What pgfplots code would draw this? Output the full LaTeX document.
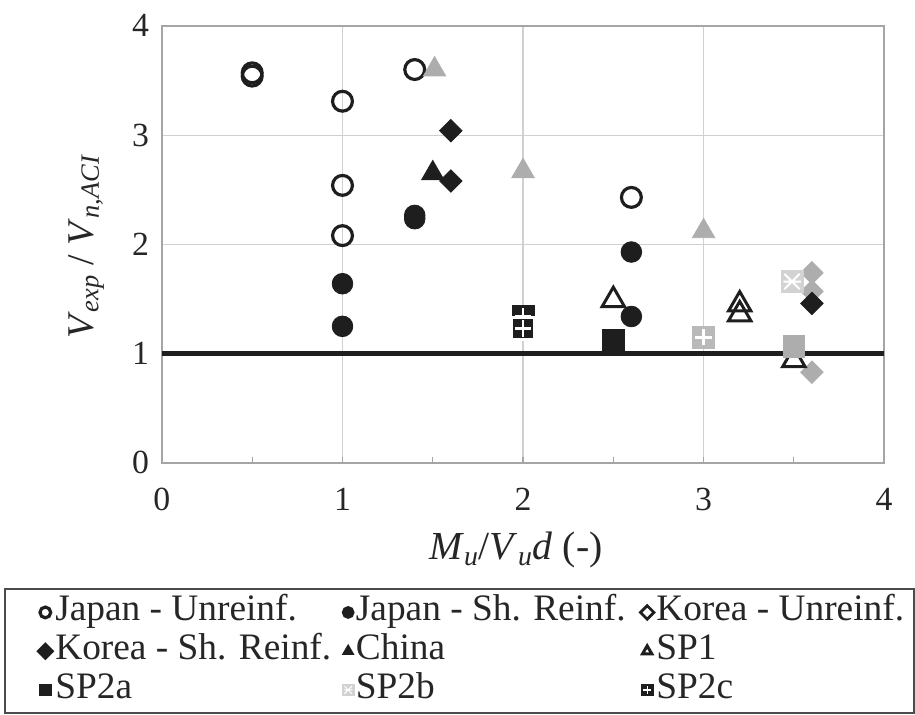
\documentclass[border=0pt]{standalone}
\usepackage{fontspec}
\setmainfont{Liberation Serif}
\usepackage{pgfplots}
\pgfplotsset{compat=1.18}
\definecolor{mk}{HTML}{1E1E1E}
\definecolor{gr}{HTML}{ADADAD}
\definecolor{lg}{HTML}{D2D2D2}
\definecolor{gridc}{HTML}{D0D0D0}
\definecolor{axc}{HTML}{A5A5A5}

\pgfdeclareplotmark{sqplus}{%
  \pgfpathrectangle{\pgfqpoint{-\pgfplotmarksize}{-\pgfplotmarksize}}{\pgfqpoint{2\pgfplotmarksize}{2\pgfplotmarksize}}%
  \pgfusepathqfillstroke
  \pgfsetstrokecolor{white}\pgfsetlinewidth{0.25\pgfplotmarksize}%
  \pgfpathmoveto{\pgfqpoint{-0.75\pgfplotmarksize}{0pt}}\pgfpathlineto{\pgfqpoint{0.75\pgfplotmarksize}{0pt}}%
  \pgfpathmoveto{\pgfqpoint{0pt}{-0.75\pgfplotmarksize}}\pgfpathlineto{\pgfqpoint{0pt}{0.75\pgfplotmarksize}}%
  \pgfusepathqstroke
}
\pgfdeclareplotmark{sqx}{%
  \pgfpathrectangle{\pgfqpoint{-\pgfplotmarksize}{-\pgfplotmarksize}}{\pgfqpoint{2\pgfplotmarksize}{2\pgfplotmarksize}}%
  \pgfusepathqfillstroke
  \pgfsetstrokecolor{white}\pgfsetlinewidth{0.18\pgfplotmarksize}%
  \pgfpathmoveto{\pgfqpoint{-0.7\pgfplotmarksize}{-0.7\pgfplotmarksize}}\pgfpathlineto{\pgfqpoint{0.7\pgfplotmarksize}{0.7\pgfplotmarksize}}%
  \pgfpathmoveto{\pgfqpoint{-0.7\pgfplotmarksize}{0.7\pgfplotmarksize}}\pgfpathlineto{\pgfqpoint{0.7\pgfplotmarksize}{-0.7\pgfplotmarksize}}%
  \pgfpathmoveto{\pgfqpoint{-0.8\pgfplotmarksize}{0pt}}\pgfpathlineto{\pgfqpoint{0.8\pgfplotmarksize}{0pt}}%
  \pgfusepathqstroke
}

\begin{document}
\begin{tikzpicture}
\begin{axis}[
  scale only axis,
  width=363.5pt, height=220pt,
  xmin=0, xmax=4, ymin=0, ymax=4,
  xtick={0,1,2,3,4}, ytick={0,1,2,3,4},
  minor x tick num=1,
  xtick pos=bottom, ytick pos=left,
  tick align=inside,
  major tick length=3pt, minor tick length=3pt,
  xtick style={axc, line width=0.6pt},
  ytick style={draw=none},
  grid=major,
  major grid style={gridc, line width=0.6pt},
  axis line style={axc, line width=0.9pt},
  /pgf/number format/assume math mode=true,
  tick label style={font=\fontsize{17}{20}\selectfont, text=black!85},
  xticklabel style={yshift=-9pt},
  yticklabel style={xshift=-3pt},
  clip=false,
  xlabel={\textit{M}\textsubscript{\textit{u}}/\textit{V}\textsubscript{\textit{u}}\textit{d} (-)},
  ylabel={\textit{V}\textsubscript{\textit{exp}} / \textit{V}\textsubscript{\textit{n,ACI}}},
  xlabel style={at={(axis description cs:0.49,-0.22)}, anchor=base, font=\fontsize{20}{24}\selectfont, text=black!85},
  ylabel style={at={(axis description cs:-0.095,0.495)}, anchor=base, font=\fontsize{19}{23}\selectfont, text=black!85},
  legend columns=3,
  legend cell align=left,
  legend image code/.code={\draw[#1, mark size=2.7pt] plot coordinates {(0pt,0pt)};},
  legend style={at={(0,0)}, anchor=north west, xshift=-79.5pt, yshift=-63pt,
    draw=black!70, line width=1pt, inner xsep=16.5pt, inner ysep=2pt,
    font=\fontsize{18.8}{22}\selectfont, text=black!85,
    row sep=0pt, column sep=0pt,
    nodes={text height=13pt, text depth=4.5pt, inner xsep=1.2pt, inner ysep=1pt}},
]
% Japan - Unreinf.
\addplot[only marks, mark=o, draw=mk, line width=1.6pt, mark size=5pt]
  coordinates {(0.5,3.54)(0.5,3.57)(1,3.31)(1,2.54)(1,2.08)(1.4,3.6)(2.6,2.43)};
\addlegendentry{\makebox[143.5pt][l]{Japan - Unreinf.}}
% Japan - Sh. Reinf.
\addplot[only marks, mark=*, draw=mk, fill=mk, mark size=5.2pt]
  coordinates {(1,1.64)(1,1.25)(1.4,2.235)(1.4,2.265)(2.6,1.93)(2.6,1.34)};
\addlegendentry{\makebox[142pt][l]{Japan - Sh. Reinf.}}
% Korea - Unreinf.
\addplot[only marks, mark=square*, mark options={rotate=45}, draw=gr, fill=gr, mark size=4pt,
  legend image code/.code={\draw[mark=square, mark options={rotate=45, draw=mk, fill=white, line width=1.4pt}, mark size=2.4pt] plot coordinates {(0pt,0pt)};}]
  coordinates {(3.6,1.74)(3.6,1.57)(3.6,0.83)};
\addlegendentry{\makebox[112pt][l]{Korea - Unreinf.}}
% Korea - Sh. Reinf.
\addplot[only marks, mark=square*, mark options={rotate=45}, draw=mk, fill=mk, mark size=4pt]
  coordinates {(1.6,3.04)(1.6,2.58)(3.6,1.46)};
\addlegendentry{Korea - Sh. Reinf.}
% China
\addplot[only marks, mark=triangle*, draw=mk, fill=mk, mark size=6.5pt]
  coordinates {(1.5,2.65)};
\addlegendentry{China}
% SP1
\addplot[only marks, mark=triangle, draw=mk, line width=1.5pt, mark size=6.5pt]
  coordinates {(2.5,1.49)(3.2,1.45)(3.2,1.36)(3.5,0.94)};
\addlegendentry{SP1}
% SP2a
\addplot[only marks, mark=square*, draw=mk, fill=mk, mark size=5.5pt]
  coordinates {(2.5,1.12)};
\addlegendentry{SP2a}
% SP2b
\addplot[only marks, mark=sqx, draw=lg, fill=lg, mark size=5.5pt]
  coordinates {(3.49,1.66)};
\addlegendentry{SP2b}
% SP2c
\addplot[only marks, mark=sqplus, draw=mk, fill=mk, mark size=5.5pt]
  coordinates {(2,1.34)(2,1.23)};
\addlegendentry{SP2c}
% grey points without own legend entry
\addplot[only marks, mark=triangle*, draw=gr, fill=gr, mark size=6.5pt, forget plot]
  coordinates {(1.51,3.6)(2,2.67)(3,2.12)};
\addplot[only marks, mark=sqplus, draw=gr!85, fill=gr!85, mark size=5.5pt, forget plot]
  coordinates {(3,1.15)};
\addplot[only marks, mark=square*, draw=gr, fill=gr, mark size=5.5pt, forget plot]
  coordinates {(3.5,1.07)};
% reference line
\addplot[mk, line width=2.5pt, forget plot] coordinates {(0,1)(4,1)};
\end{axis}
\path (current axis.south west) ++(-81.5pt,-126.5pt) coordinate (bbl);
\path (current axis.north east) ++(12.5pt,13pt) coordinate (btr);
\path (bbl) rectangle (btr);
\end{tikzpicture}
\end{document}
